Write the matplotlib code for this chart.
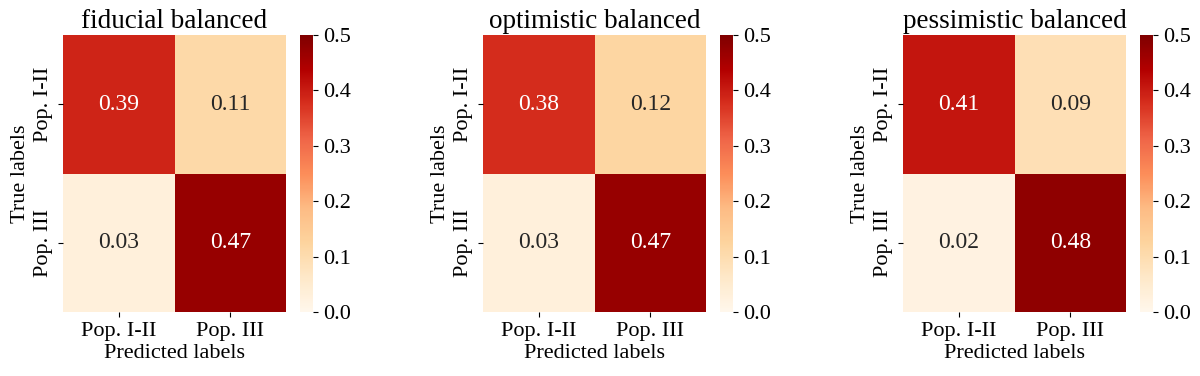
import numpy as np
import matplotlib
matplotlib.use("Agg")
import matplotlib.pyplot as plt
import seaborn as sns

plt.rcParams["font.family"] = ["Liberation Serif", "DejaVu Serif"]

titles = ["fiducial balanced", "optimistic balanced", "pessimistic balanced"]
labels = ["Pop. I-II", "Pop. III"]
fiducial = [[0.39, 0.11], [0.03, 0.47]]
optimistic = [[0.38, 0.12], [0.03, 0.47]]
pessimistic = [[0.41, 0.09], [0.02, 0.48]]
matrices = [fiducial, optimistic, pessimistic]

W, H = 1200, 376
fig = plt.figure(figsize=(W / 100, H / 100), dpi=100)

# pixel layout: heatmap left edges, colorbar offset
lefts = [63, 483, 903]
for left, mat, title in zip(lefts, matrices, titles):
    ax = fig.add_axes([left / W, (H - 312) / H, 223 / W, 277 / H])
    cax = fig.add_axes([(left + 237) / W, (H - 312) / H, 13 / W, 277 / H])
    sns.heatmap(
        np.array(mat), ax=ax, cbar_ax=cax, annot=True, fmt=".2f", cmap="OrRd",
        vmin=0, vmax=0.5, xticklabels=labels, yticklabels=labels,
        annot_kws={"fontsize": 17},
        cbar_kws={"ticks": [0, 0.1, 0.2, 0.3, 0.4, 0.5]},
    )
    ax.set_title(title, fontsize=19.5, pad=5)
    ax.set_xlabel("Predicted labels", fontsize=16, labelpad=2)
    ax.set_ylabel("True labels", fontsize=16, labelpad=3)
    ax.tick_params(labelsize=16)
    ax.set_yticklabels(labels, rotation=90, va="center")
    cax.tick_params(labelsize=16)
    cax.yaxis.set_major_formatter(matplotlib.ticker.FormatStrFormatter("%.1f"))

plt.savefig("out.png", dpi=100)
